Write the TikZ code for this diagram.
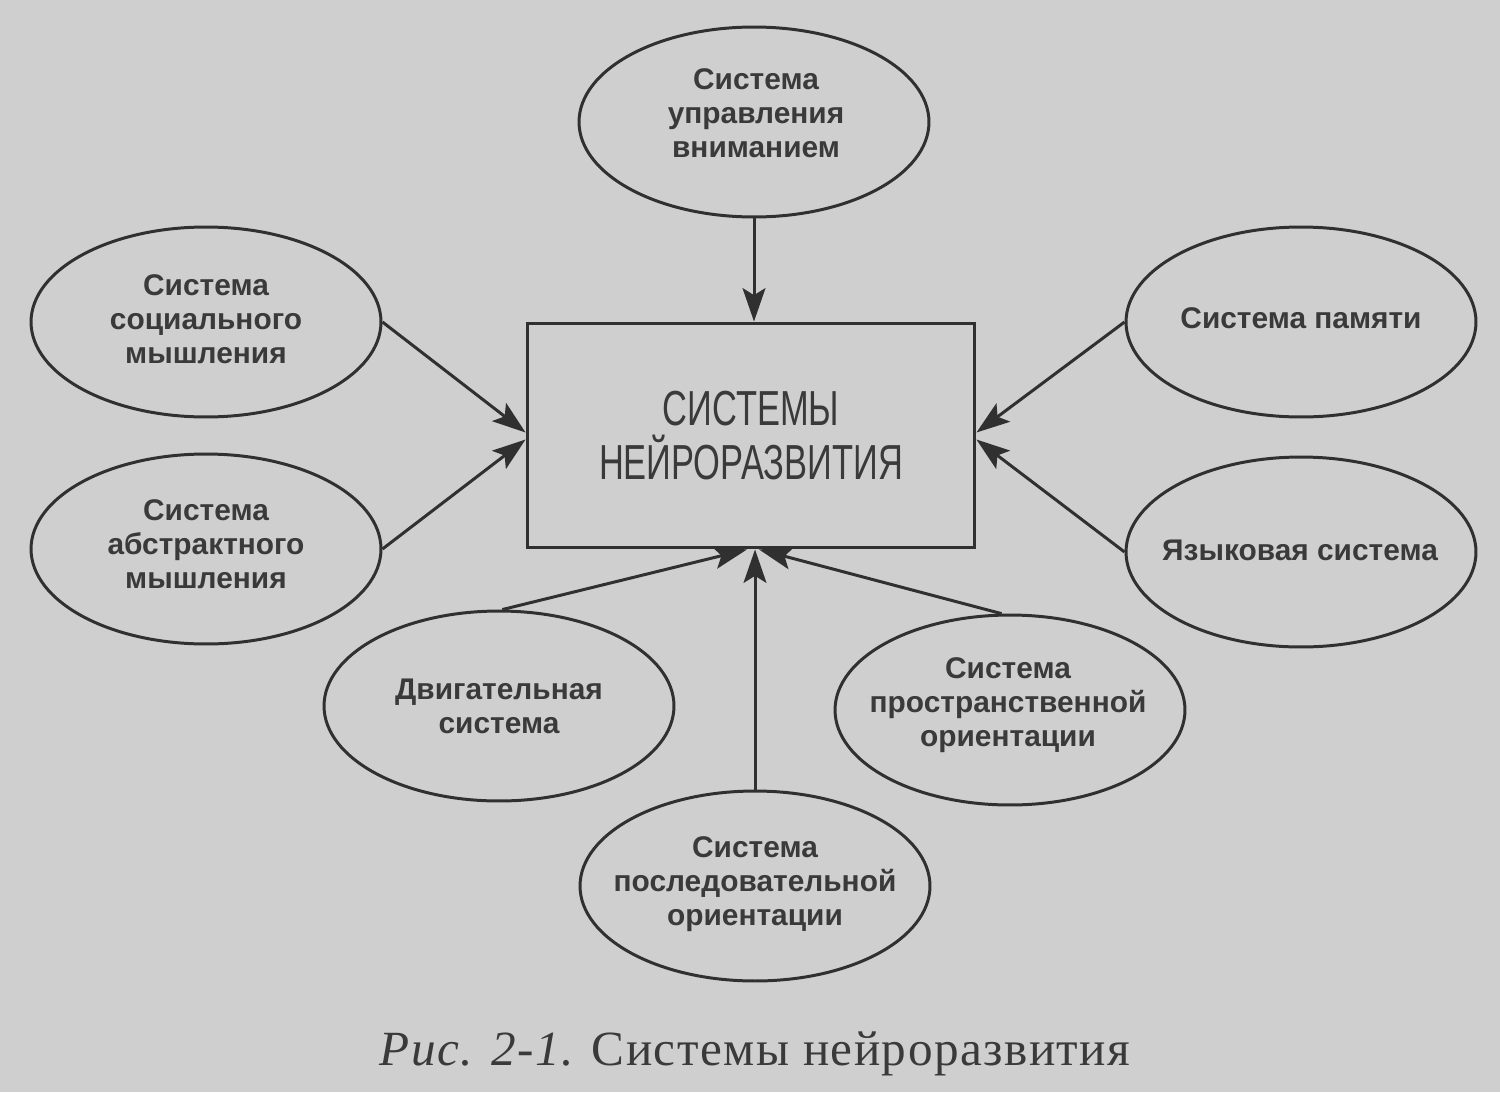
\documentclass[tikz,border=0pt]{standalone}
\usepackage{fontspec}
\setmainfont{Liberation Serif}
\newfontfamily\capfont[LetterSpace=3]{Liberation Serif}
\newfontfamily\ellfont{Liberation Sans}
\newfontfamily\boxfont[FakeStretch=0.7]{Liberation Sans}
\usetikzlibrary{shapes.geometric,arrows.meta,calc}
\definecolor{bg}{RGB}{207,207,207}
\definecolor{ink}{RGB}{48,48,48}
\definecolor{txt}{RGB}{58,58,58}
\tikzset{
  ell/.style={ellipse, draw=ink, line width=1.7pt, minimum width=7cm, minimum height=3.8cm, inner sep=0pt},
  etext/.style={align=center, inner sep=0pt, text=txt, font=\ellfont\bfseries\fontsize{17}{19.5}\selectfont},
  mainbox/.style={rectangle, draw=ink, line width=1.7pt, minimum width=8.96cm, minimum height=4.5cm, inner sep=0pt, align=center, text=txt, font=\boxfont\fontsize{28}{30.5}\selectfont},
  arr/.style={draw=ink, line width=1.7pt, -{Stealth[length=19pt, width=13pt, inset=4pt]}},
  captext/.style={inner sep=0pt, text=txt, font=\capfont\fontsize{28}{30}\selectfont}
}
\begin{document}
\begin{tikzpicture}[x=0.02cm, y=-0.02cm]
\useasboundingbox (0,0) rectangle (1500,1092);
\fill[bg] (0,0) rectangle (1500,1092);

\node[mainbox] (box) at (751,435.5) {СИСТЕМЫ\\НЕЙРОРАЗВИТИЯ};

\node[ell] (att) at (754,122) {};
\node[etext] (attt) at (756,113) {Система\\управления\\вниманием};

\node[ell] (soc) at (206,322) {};
\node[etext] (soct) at (206,319) {Система\\социального\\мышления};

\node[ell] (abs) at (206,549) {};
\node[etext] (abst) at (206,544) {Система\\абстрактного\\мышления};

\node[ell] (mem) at (1301,322) {};
\node[etext] (memt) at (1301,318) {Система памяти};

\node[ell] (lang) at (1301,552) {};
\node[etext] (langt) at (1300,550) {Языковая система};

\node[ell] (mot) at (499,706) {};
\node[etext] (mott) at (499,706) {Двигательная\\система};

\node[ell] (spa) at (1010,710) {};
\node[etext] (spat) at (1008,705) {Система\\пространственной\\ориентации};

\node[ell] (seq) at (755,886) {};
\node[etext] (seqt) at (755,884) {Система\\последовательной\\ориентации};

\draw[arr] (att.south) -- (att.south |- box.north);
\draw[arr] (soc.east) -- ($(box.west)+(0,-3)$);
\draw[arr] (abs.east) -- ($(box.west)+(0,4)$);
\draw[arr] (mem.west) -- ($(box.east)+(0,-3)$);
\draw[arr] (lang.west) -- ($(box.east)+(0,4)$);
\draw[arr] (mot.88) -- ($(box.south)+(-4,0)$);
\draw[arr] (spa.95) -- ($(box.south)+(8,0)$);
\draw[arr] (seq.north) -- (seq.north |- box.south);

\node[captext, anchor=base] (cap) at (755,1065) {{\itshape Рис. 2-1.} Системы нейроразвития};
\end{tikzpicture}
\end{document}
